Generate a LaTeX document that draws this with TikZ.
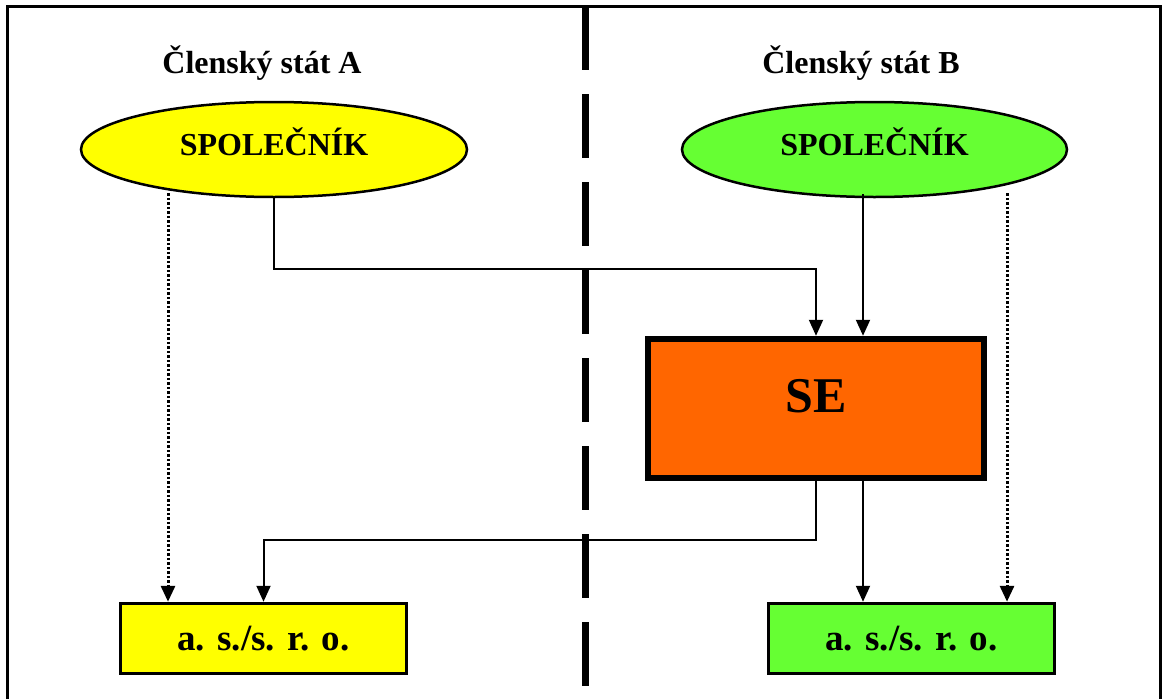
\documentclass[tikz,border=0pt]{standalone}
\usepackage{fontspec}
\setmainfont{Liberation Serif}
\usetikzlibrary{arrows.meta,shapes.geometric}
\definecolor{yel}{HTML}{FFFF00}
\definecolor{grn}{HTML}{66FF33}
\definecolor{org}{HTML}{FF6600}
\tikzset{
  title/.style={anchor=base,inner sep=0pt,font=\fontsize{32pt}{38pt}\selectfont\bfseries},
  partner/.style={ellipse,draw,line width=2.5pt,minimum width=386pt,minimum height=95pt,inner sep=0pt,
    text height=21pt,text depth=10pt,font=\fontsize{32pt}{38pt}\selectfont\bfseries},
  sebox/.style={rectangle,draw,line width=6.5pt,fill=org,minimum width=336pt,minimum height=139pt,inner sep=0pt,
    text height=33pt,text depth=26pt,font=\fontsize{50pt}{58pt}\selectfont\bfseries},
  cobox/.style={rectangle,draw,line width=3.5pt,minimum width=286pt,minimum height=70pt,inner sep=0pt,
    text height=23pt,text depth=0pt,font=\fontsize{37pt}{44pt}\selectfont\bfseries},
  conn/.style={line width=2pt,-{Triangle[length=16pt,width=14pt]}},
  dotconn/.style={line width=3pt,dash pattern=on 2.5pt off 2pt,-{Triangle[length=16pt,width=14pt]}},
  frameline/.style={line width=3pt},
  divider/.style={line width=7.5pt,dash pattern=on 64pt off 24pt}
}
\begin{document}
\begin{tikzpicture}[x=1pt,y=-1pt]
\useasboundingbox (0,0) rectangle (1164,699);
\fill[white] (0,0) rectangle (1164,699);
% frame
\draw[frameline] (7,699) -- (7,6) -- (1160,6) -- (1160,699);
% divider
\draw[divider] (585.5,6) -- (585.5,699);
% titles
\node[title] (tA) at (262,73) {Členský stát A};
\node[title] (tB) at (861,73) {Členský stát B};
% partners
\node[partner,fill=yel] (lelli) at (274,149.5) {SPOLEČNÍK};
\node[partner,fill=grn,minimum width=385pt] (relli) at (874.5,149.5) {SPOLEČNÍK};
% SE
\node[sebox] (se) at (816,408.5) {SE};
% companies
\node[cobox,fill=yel] (lbox) at (263.5,638.5) {a. s./s. r. o.};
\node[cobox,fill=grn] (rbox) at (911.5,638.5) {a. s./s. r. o.};
% helper coordinates
\coordinate (seB) at ([xshift=47pt]se.north);
\coordinate (lA) at ([xshift=-95.5pt]lbox.north);
\coordinate (rA) at ([xshift=95.5pt]rbox.north);
% connectors
\draw[conn] (lelli.south) -- ++(0,71) -| (se.north);
\draw[conn] ([yshift=4pt]seB |- relli.south) -- (seB);
\draw[dotconn] ([yshift=5pt]lA |- lelli.south) -- (lA);
\draw[dotconn] ([yshift=5pt]rA |- relli.south) -- (rA);
\draw[conn] (se.south) -- ++(0,59) -| (lbox.north);
\draw[conn] (seB |- se.south) -- (seB |- rbox.north);
\end{tikzpicture}
\end{document}
